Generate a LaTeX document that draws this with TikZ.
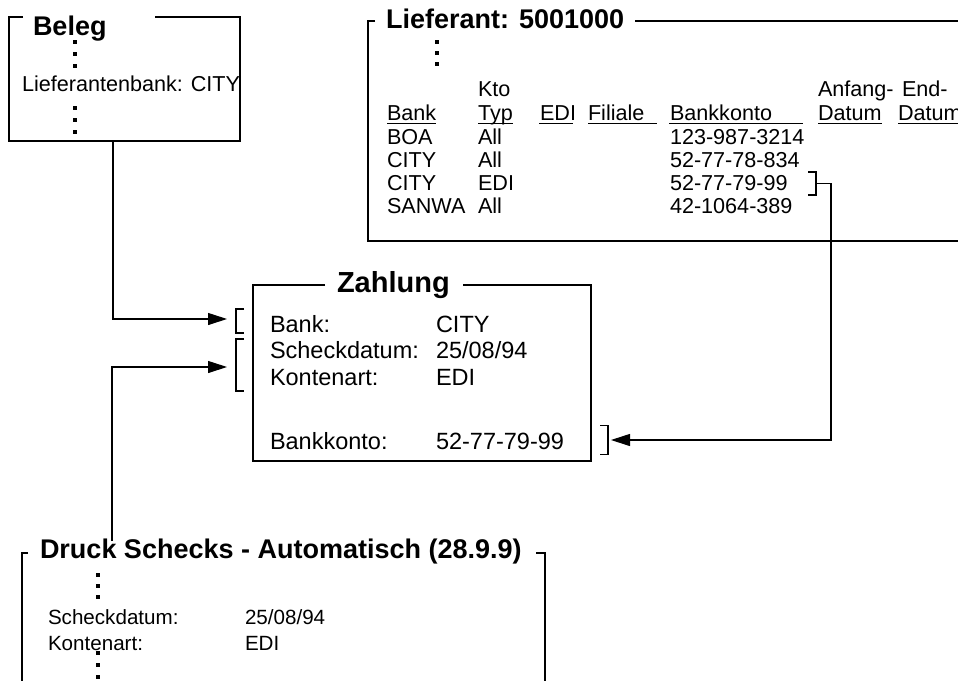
\documentclass[tikz,border=0pt]{standalone}
\usepackage{fontspec}
\setmainfont{Liberation Sans}
\usetikzlibrary{arrows.meta}

\tikzset{
  txt/.style={inner sep=0pt, outer sep=0pt, anchor=base west, font=\fontsize{21.6}{24}\selectfont},
  ztxt/.style={txt, font=\fontsize{23.5}{26}\selectfont},
  dtxt/.style={txt, font=\fontsize{20.6}{22}\selectfont},
  ttl/.style={txt, font=\fontsize{27}{30}\selectfont\bfseries},
  brk/.style={inner sep=0pt, outer sep=0pt, minimum width=8pt},
  conn/.style={-{Triangle[length=19pt,width=12pt]}, line width=1.1pt},
}

\begin{document}
\begin{tikzpicture}[x=1pt, y=-1pt, line width=1.2pt]
\useasboundingbox (0,0) rectangle (958,680);

% Beleg
\draw (23,17) -- (9,17) -- (9,141) -- (240,141) -- (240,17) -- (155,17);
\node[ttl] (beleg) at (33,35) {Beleg};
\foreach \y in {42,54,66,108,120,132}
  \fill (73,\y-2) rectangle ++(4,4);
\node[txt] (lbank) at (22,91) {Lieferantenbank: CITY};
\coordinate (belegout) at (113,141);

% Lieferant
\draw (375,21) -- (368,21) -- (368,241) -- (960,241);
\draw (635,21) -- (960,21);
\node[ttl] (lief) at (386,28) {Lieferant: 5001000};
\foreach \y in {42,53,64}
  \fill (435,\y-2) rectangle ++(4,4);
\node[txt] (kto) at (478,96) {Kto};
\node[txt] (anf) at (818,96) {Anfang-};
\node[txt] (endd) at (902,96) {End-};
\node[txt] (hbank) at (387,120) {Bank};
\node[txt] (htyp) at (478,120) {Typ};
\node[txt] (hedi) at (540,120) {EDI};
\node[txt] (hfil) at (588,120) {Filiale};
\node[txt] (hkonto) at (670,120) {Bankkonto};
\node[txt] (hanf) at (818,120) {Datum};
\node[txt] (hend) at (898,120) {Datum};
\foreach \a/\b in {387/436,478/513,539/573,588/657,669/803,818/882,898/960}
  \draw[line width=1pt] (\a,123.5) -- (\b,123.5);
\foreach \bk/\ty/\nr [count=\i] in {BOA/All/123-987-3214, CITY/All/52-77-78-834,
    CITY/EDI/52-77-79-99, SANWA/All/42-1064-389} {
  \node[txt] (b\i) at (387,{144+23*(\i-1)}) {\bk};
  \node[txt] (t\i) at (478,{144+23*(\i-1)}) {\ty};
  \node[txt] (k\i) at (670,{144+23*(\i-1)}) {\nr};
}
\node[brk, minimum height=23pt] (liefbr) at (812,183.5) {};
\draw (liefbr.north west) -| (liefbr.south east) -- (liefbr.south west);

% Zahlung
\draw (325,285) -- (253,285) -- (253,461) -- (591,461) -- (591,285) -- (463,285);
\node[ttl, font=\fontsize{29}{32}\selectfont\bfseries] (zahl) at (337,292) {Zahlung};
\node[ztxt] (zbank) at (270,332) {Bank:};
\node[ztxt] (zbankv) at (436,332) {CITY};
\node[ztxt] (zsd) at (270,358.5) {Scheckdatum:};
\node[ztxt] (zsdv) at (436,358.5) {25/08/94};
\node[ztxt] (zka) at (270,385) {Kontenart:};
\node[ztxt] (zkav) at (436,385) {EDI};
\node[ztxt] (zkonto) at (270,449) {Bankkonto:};
\node[ztxt] (zkontov) at (436,449) {52-77-79-99};
\node[brk, minimum height=24pt] (bankbr) at (240,321) {};
\draw (bankbr.north east) -| (bankbr.south west) -- (bankbr.south east);
\node[brk, minimum height=52pt] (datbr) at (240,365) {};
\draw (datbr.north east) -| (datbr.south west) -- (datbr.south east);
\node[brk, minimum height=29pt] (kontobr) at (604,440) {};
\draw (kontobr.north west) -| (kontobr.south east) -- (kontobr.south west);

% Druck Schecks
\draw (28,553) -- (22,553) -- (22,690);
\draw (536,553) -- (545,553) -- (545,690);
\node[ttl] (druck) at (40,558) {Druck Schecks - Automatisch (28.9.9)};
\foreach \y in {575,586,597,653,665,677}
  \fill (96,\y-2) rectangle ++(4,4);
\node[dtxt] (dsd) at (48,624) {Scheckdatum:};
\node[dtxt] (dsdv) at (245,624) {25/08/94};
\node[dtxt] (dka) at (48,650) {Kontenart:};
\node[dtxt] (dkav) at (245,650) {EDI};
\coordinate (druckout) at (112,541);

% Verbindungen
\draw[conn, shorten >=9pt] (belegout) |- ([yshift=2pt]bankbr.west);
\draw[conn, shorten >=9pt] (druckout) |- ([yshift=-2pt]datbr.west);
\draw[conn, shorten >=3pt] (liefbr.east) -- ++(15,0) |- (kontobr.east);
\end{tikzpicture}
\end{document}
